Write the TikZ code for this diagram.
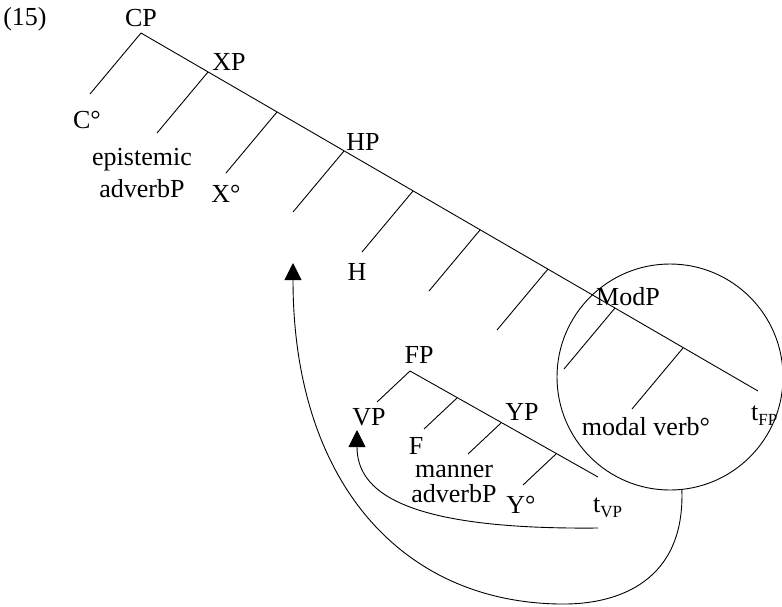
\documentclass[tikz,border=0pt]{standalone}
\usepackage{fontspec}
\setmainfont{Liberation Serif}
\usetikzlibrary{arrows.meta}
\newcommand\subtx[1]{\raisebox{-5pt}{\fontsize{17}{17}\selectfont #1}}
\begin{document}
\begin{tikzpicture}[x=1pt,y=-1pt,
  lbl/.style={font=\fontsize{26}{30}\selectfont, inner sep=0, anchor=base},
  edge/.style={line width=0.9pt},
  bigtip/.style={-{Triangle[width=17pt,length=17pt]}}]
\useasboundingbox (0,0) rectangle (782,606);
% labels
\node[lbl] (ex) at (25,25) {(15)};
\node[lbl] (cpl) at (141,26) {CP};
\node[lbl] (xpl) at (229,70) {XP};
\node[lbl] (col) at (87,128) {C°};
\node[lbl] (ep1) at (142,165) {epistemic};
\node[lbl] (ep2) at (142,197) {adverbP};
\node[lbl] (xol) at (226,202) {X°};
\node[lbl] (hpl) at (363,150) {HP};
\node[lbl] (hl) at (357,280) {H};
\node[lbl] (modl) at (628,305) {ModP};
\node[lbl] (mvl) at (646,435) {modal verb°};
\node[lbl, anchor=base west] (tfpl) at (751,420) {t\subtx{FP}};
\node[lbl] (fpl) at (419,363) {FP};
\node[lbl] (vpl) at (369,425) {VP};
\node[lbl] (fl) at (416,454) {F};
\node[lbl] (ypl) at (522,420) {YP};
\node[lbl] (ma1) at (454,477) {manner};
\node[lbl] (ma2) at (454,502) {adverbP};
\node[lbl] (yol) at (521,513) {Y°};
\node[lbl, anchor=base west] (tvpl) at (593,512) {t\subtx{VP}};
% main spine points
\coordinate (cp) at (141,33);
\coordinate (xp) at (208,72);
\coordinate (s2) at (277,112);
\coordinate (hp) at (344,151);
\coordinate (s4) at (413,191);
\coordinate (s5) at (480,230);
\coordinate (s6) at (548,269);
\coordinate (mp) at (615,308);
\coordinate (s8) at (683,348);
\coordinate (tfp) at (758,391);
\draw[edge] (cp) -- (tfp);
\foreach \p in {cp,xp,s2,hp,s4,s5,s6,mp,s8}
  \draw[edge] (\p) -- ++(-51,61) coordinate (\p-leaf);
% FP subtree
\coordinate (fp) at (410,371);
\coordinate (f1) at (457,398);
\coordinate (yp) at (501,423);
\coordinate (f3) at (556,454);
\coordinate (tvp) at (598,477);
\draw[edge] (fp) -- (tvp);
\foreach \p in {fp,f1,yp,f3}
  \draw[edge] (\p) -- ++(-33,31) coordinate (\p-leaf);
% circle
\node[draw, circle, line width=0.9pt, minimum size=226pt, inner sep=0] (mod) at (670,377) {};
% movement arrows
\coordinate (hptip) at (293,263);
\coordinate (vptip) at (357,430);
\coordinate (tvpa) at (598,528);
\coordinate (bot) at (560,604);
\draw[edge, bigtip] (mod.-84) .. controls (685,580) and (620,605) .. (bot)
  .. controls (400,602) and (293,480) .. (hptip);
\draw[edge, bigtip] (tvpa) .. controls (400,530) and (357,490) .. (vptip);
\end{tikzpicture}
\end{document}
